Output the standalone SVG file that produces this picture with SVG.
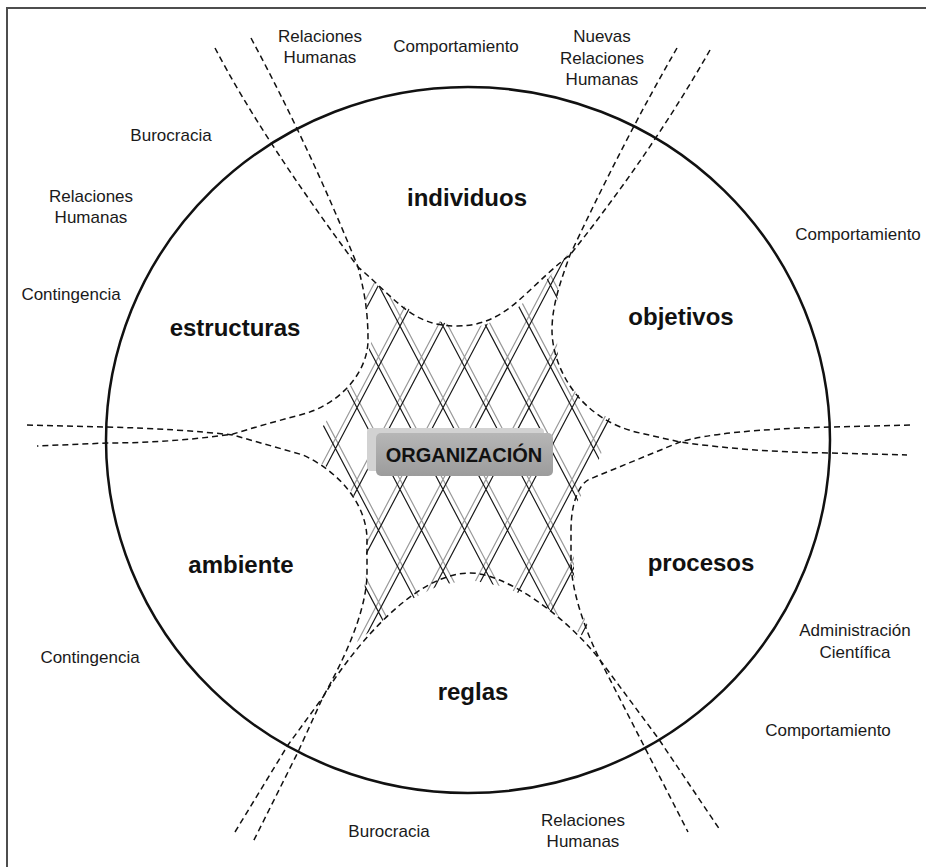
<svg xmlns="http://www.w3.org/2000/svg" xmlns:xlink="http://www.w3.org/1999/xlink" width="926" height="867" viewBox="0 0 926 867">
<style>
.lbl{font-family:"Liberation Sans",Arial,sans-serif;font-size:17px;fill:#1a1a1a;text-anchor:middle}
.big{font-family:"Liberation Sans",Arial,sans-serif;font-size:24px;font-weight:bold;fill:#111;text-anchor:middle}
.dash{fill:none;stroke:#111;stroke-width:1.5;stroke-dasharray:6 4}
.blk{fill:none;stroke:#1a1a1a;stroke-width:1.2}
.gry{fill:none;stroke:#9a9a9a;stroke-width:1.2}
</style>
<defs>
<path id="lat" d="M96.7,240L317.8,660M139.7,240L360.8,660M182.7,240L403.8,660M225.7,240L446.8,660M268.7,240L489.8,660M311.7,240L532.8,660M354.7,240L575.8,660M397.7,240L618.8,660M440.7,240L661.8,660M483.7,240L704.8,660M526.7,240L747.8,660M569.7,240L790.8,660M612.7,240L833.8,660M316.3,240L95.2,660M359.3,240L138.2,660M402.3,240L181.2,660M445.3,240L224.2,660M488.3,240L267.2,660M531.3,240L310.2,660M574.3,240L353.2,660M617.3,240L396.2,660M660.3,240L439.2,660M703.3,240L482.2,660M746.3,240L525.2,660M789.3,240L568.2,660M832.3,240L611.2,660"/>
<clipPath id="core">
<polygon points="357,266 390,297 420,316 445,323 462,331 487,324 515,310 540,288 568,254 558,290 556,325 558,357 568,383 588,406 614,421 590,482 577,502 574,525 574,575 580,607 597,648 560,617 532,598 500,586 470,580 440,585 404,603 357,642 362,607 366,575 366,540 359,505 342,476 305,454 340,400 362,370 372,340 368,310"/>
</clipPath>
<linearGradient id="face" x1="0" y1="0" x2="0" y2="1">
<stop offset="0" stop-color="#b6b6b6"/>
<stop offset="1" stop-color="#9c9c9c"/>
</linearGradient>
</defs>
<rect width="926" height="867" fill="#fff"/>
<path d="M7,867V8H926" fill="none" stroke="#4d4d4d" stroke-width="2"/>
<g id="circle">
<ellipse cx="468" cy="440" rx="362" ry="353" fill="none" stroke="#111" stroke-width="2.5"/>
</g>
<g id="net" clip-path="url(#core)">
<use xlink:href="#lat" class="gry" transform="translate(0,-10)"/>
<use xlink:href="#lat" class="blk"/>
</g>
<g id="connectors">
<path id="c-individuos" class="dash" d="M215,48 Q262,138 358,267 C398,301 412,326 457,326 C507,326 525,289 570,255 Q652,152 710,50"/>
<path id="c-estructuras" class="dash" d="M251,38 Q310,148 358,267 C364,290 368,310 368,340 C368,372 340,405 300,415 Q262,425 233,434 Q170,443 107,443 L37,446"/>
<path id="c-objetivos" class="dash" d="M677,48 Q624,140 570,255 C561,280 552,305 552,330 C552,368 580,420 640,433 L680,442 Q750,452 830,453 L907,455"/>
<path id="c-procesos" class="dash" d="M910,425 L830,427 Q720,430 680,442 L590,479 C578,484 571,505 571,530 L571,560 C571,590 585,630 600,660 L688,832"/>
<path id="c-reglas" class="dash" d="M235,832 L288,745 L323,697 C345,660 410,573 470,573 C505,573 565,615 600,660 L658,738 L720,830"/>
<path id="c-ambiente" class="dash" d="M27,425 L107,427 Q180,429 233,435 L303,455 C340,472 367,505 367,540 L367,573 C367,600 355,640 323,697 L298,752 L253,842"/>
</g>
<g id="organizacion">
<rect x="367" y="428" width="177" height="43" rx="4" fill="#d2d2d2"/>
<rect x="376" y="433" width="177" height="43" rx="5" fill="url(#face)"/>
<text x="464" y="462" font-family="Liberation Sans, Arial, sans-serif" font-size="20" font-weight="bold" fill="#111" text-anchor="middle">ORGANIZACIÓN</text>
</g>
<g id="sectors">
<text class="big" x="467" y="206">individuos</text>
<text class="big" x="235" y="336">estructuras</text>
<text class="big" x="681" y="325">objetivos</text>
<text class="big" x="241" y="573">ambiente</text>
<text class="big" x="701" y="571">procesos</text>
<text class="big" x="473" y="700">reglas</text>
</g>
<g id="schools">
<text class="lbl" x="320" y="42">Relaciones</text>
<text class="lbl" x="320" y="63">Humanas</text>
<text class="lbl" x="456" y="52">Comportamiento</text>
<text class="lbl" x="602" y="42">Nuevas</text>
<text class="lbl" x="602" y="64">Relaciones</text>
<text class="lbl" x="602" y="85">Humanas</text>
<text class="lbl" x="171" y="141">Burocracia</text>
<text class="lbl" x="91" y="202">Relaciones</text>
<text class="lbl" x="91" y="223">Humanas</text>
<text class="lbl" x="71" y="300">Contingencia</text>
<text class="lbl" x="858" y="240">Comportamiento</text>
<text class="lbl" x="855" y="636">Administración</text>
<text class="lbl" x="855" y="658">Científica</text>
<text class="lbl" x="828" y="736">Comportamiento</text>
<text class="lbl" x="90" y="663">Contingencia</text>
<text class="lbl" x="389" y="837">Burocracia</text>
<text class="lbl" x="583" y="826">Relaciones</text>
<text class="lbl" x="583" y="847">Humanas</text>
</g>
</svg>
